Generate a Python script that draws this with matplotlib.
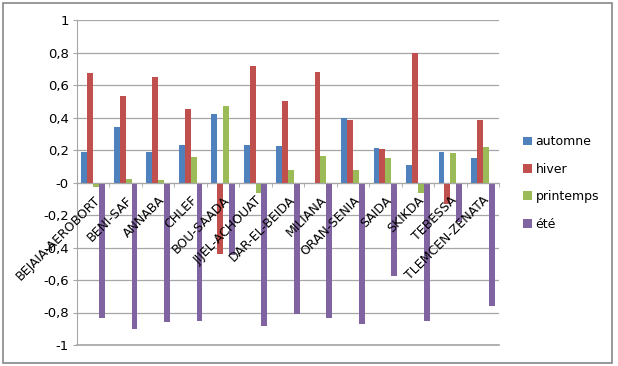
import numpy as np
import matplotlib
matplotlib.use('Agg')
import matplotlib.pyplot as plt
from matplotlib.patches import Rectangle
from matplotlib.ticker import FuncFormatter

# Stations and seasonal values
stations = ['BEJAIA-AEROBORT', 'BENI-SAF', 'ANNABA', 'CHLEF', 'BOU-SAADA',
            'JIJEL-ACHOUAT', 'DAR-EL-BEIDA', 'MILIANA', 'ORAN-SENIA', 'SAIDA',
            'SKIKDA', 'TEBESSA', 'TLEMCEN-ZENATA']
automne = [0.185, 0.34, 0.19, 0.23, 0.42, 0.23, 0.225, -0.005, 0.40, 0.215, 0.11, 0.19, 0.15]
hiver = [0.673, 0.535, 0.65, 0.455, -0.44, 0.715, 0.50, 0.68, 0.385, 0.205, 0.80, -0.13, 0.385]
printemps = [-0.03, 0.02, 0.015, 0.16, 0.47, -0.065, 0.08, 0.165, 0.08, 0.15, -0.065, 0.18, 0.22]
ete = [-0.835, -0.90, -0.86, -0.85, -0.445, -0.88, -0.81, -0.835, -0.87, -0.575, -0.85, -0.24, -0.76]

series = [('automne', automne, '#4F81BD'),
          ('hiver', hiver, '#C0504D'),
          ('printemps', printemps, '#9BBB59'),
          ('été', ete, '#8064A2')]

fig = plt.figure(figsize=(6.18, 3.66), dpi=100)
ax = fig.add_axes([77 / 618, 21 / 366, 422 / 618, 325 / 366])

x = np.arange(len(stations))
w = 1 / 5.5
for i, (name, vals, col) in enumerate(series):
    ax.bar(x + (i - 1.5) * w, vals, width=w, color=col, label=name, zorder=3)

ax.set_xlim(-0.5, len(stations) - 0.5)
ax.set_ylim(-1, 1)
ax.set_yticks(np.arange(-1, 1.01, 0.2))
ax.yaxis.set_major_formatter(FuncFormatter(
    lambda v, p: ('%g' % round(v, 1)).replace('.', ',')))
ax.yaxis.grid(True, color='#A6A6A6', linewidth=0.9, zorder=0)
ax.axhline(-1, color='#A6A6A6', linewidth=1.2, clip_on=False, zorder=1)
ax.tick_params(axis='y', labelsize=9.5, length=3, color='#A6A6A6', pad=3)

for s in ['top', 'right']:
    ax.spines[s].set_visible(False)
ax.spines['left'].set_color('#A6A6A6')
ax.spines['bottom'].set_position(('data', 0))
ax.spines['bottom'].set_color('#A6A6A6')
ax.spines['bottom'].set_zorder(4)

ax.set_xticks(x)
ax.set_xticklabels(stations, rotation=45, ha='right', va='top',
                   rotation_mode='anchor', fontsize=9)
ax.tick_params(axis='x', length=0, pad=8)
ax.set_xticks(np.arange(-0.5, len(stations), 1), minor=True)
ax.tick_params(axis='x', which='minor', length=3, color='#A6A6A6')
# category labels sit on top of the bars, as in the original
ax.xaxis.set_zorder(5)

ax.legend(loc='center left', bbox_to_anchor=(518 / 618, 1 - 183 / 366),
          bbox_transform=fig.transFigure, frameon=False, fontsize=9,
          handlelength=0.7, handleheight=0.7, handletextpad=0.3,
          labelspacing=1.15, borderaxespad=0)

# Outer chart border
fig.patches.append(Rectangle((3 / 618, 3 / 366), 609 / 618, 360 / 366,
                             transform=fig.transFigure, fill=False,
                             edgecolor='#888888', linewidth=1.2))

fig.savefig('out.png', dpi=100)
